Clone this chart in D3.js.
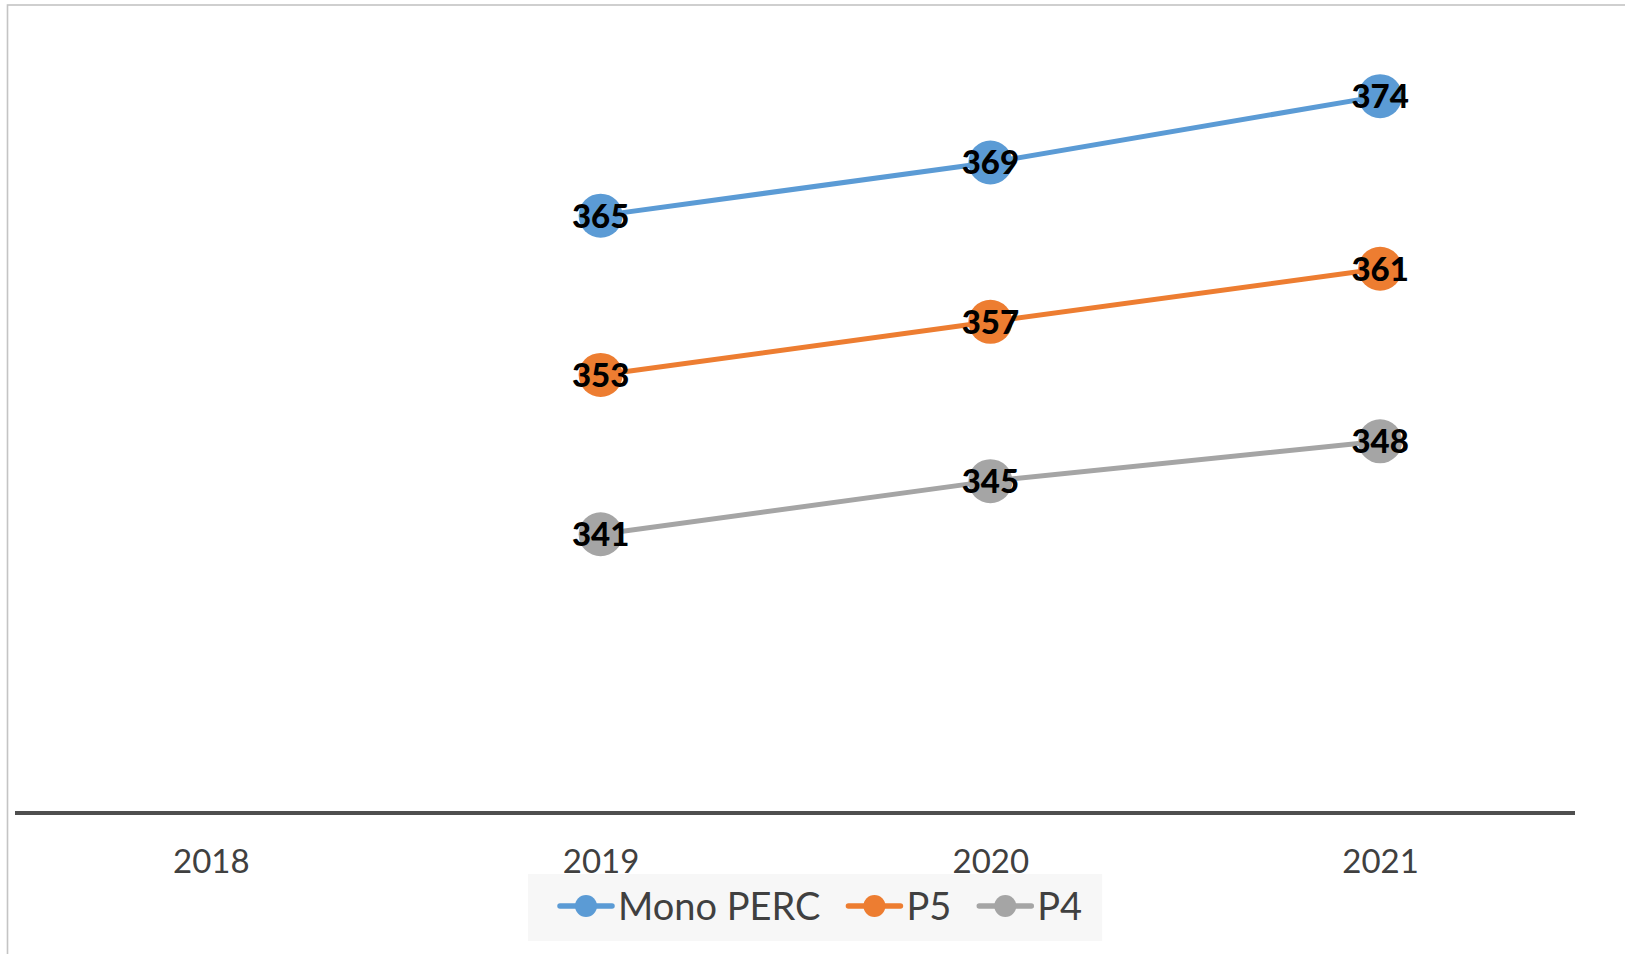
<!DOCTYPE html>
<html>
<head>
<meta charset="utf-8">
<script src="https://cdn.jsdelivr.net/npm/d3@7/dist/d3.min.js"></script>
<style>
  html, body { margin: 0; padding: 0; background: #ffffff; }
  svg { display: block; }
</style>
</head>
<body>
<svg id="chart" width="1625" height="954"></svg>
<script>
// Categories and series values (2018 has no data)
const years = ["2018", "2019", "2020", "2021"];
const monoPerc = [null, 365, 369, 374];
const p5 = [null, 353, 357, 361];
const p4 = [null, 341, 345, 348];
const seriesNames = ["Mono PERC", "P5", "P4"];
const seriesColors = ["#5b9bd5", "#ed7d31", "#a5a5a5"];
const yDomain = [320, 380];

const series = [monoPerc, p5, p4].map((vals, i) => ({
  name: seriesNames[i],
  color: seriesColors[i],
  points: years.map((y, j) => ({ year: y, value: vals[j] })).filter(d => d.value != null)
}));

const svg = d3.select("#chart");
const W = 1625, H = 954;

// outer chart frame (extends past the page edge on the right and bottom)
svg.append("rect")
  .attr("x", 7.5).attr("y", 5)
  .attr("width", W + 100).attr("height", H + 100)
  .attr("fill", "#ffffff")
  .attr("stroke", "#c4c4c4").attr("stroke-width", 1.6);

const x = d3.scalePoint().domain(years).range([16, 1575]).padding(0.5);
const y = d3.scaleLinear().domain(yDomain).range([813, 16.5]);

// category axis
const xAxis = d3.axisBottom(x).tickSize(0).tickPadding(0);
const gx = svg.append("g")
  .attr("transform", `translate(0,${y(yDomain[0])})`)
  .call(xAxis);
gx.select(".domain").remove();
gx.append("line")
  .attr("x1", 15).attr("x2", 1575)
  .attr("y1", 0).attr("y2", 0)
  .attr("stroke", "#4f4f4f").attr("stroke-width", 4);
gx.selectAll(".tick text")
  .attr("dy", 0)
  .attr("y", 60)
  .attr("fill", "#404040")
  .style("font-family", "Lato, 'Open Sans', sans-serif")
  .style("font-size", "33px");

const line = d3.line()
  .x(d => x(d.year))
  .y(d => y(d.value));

const g = svg.append("g");
series.forEach(s => {
  g.append("path")
    .datum(s.points)
    .attr("d", line)
    .attr("fill", "none")
    .attr("stroke", s.color)
    .attr("stroke-width", 5)
    .attr("stroke-linecap", "round");
  g.selectAll(null)
    .data(s.points)
    .join("circle")
    .attr("cx", d => x(d.year))
    .attr("cy", d => y(d.value))
    .attr("r", 22)
    .attr("fill", s.color);
});
series.forEach(s => {
  g.selectAll(null)
    .data(s.points)
    .join("text")
    .attr("x", d => x(d.year))
    .attr("y", d => y(d.value))
    .attr("dy", "0.36em")
    .attr("text-anchor", "middle")
    .attr("fill", "#000000")
    .style("font-family", "Lato, 'Open Sans', sans-serif")
    .style("font-weight", "900")
    .style("font-size", "33px")
    .text(d => d.value);
});

// legend
const legend = svg.append("g");
const legendBg = legend.append("rect")
  .attr("y", 874).attr("height", 67)
  .attr("fill", "#f7f7f7");
const legendY = 906;
let cx = 560;
series.forEach(s => {
  const item = legend.append("g");
  item.append("line")
    .attr("x1", cx).attr("x2", cx + 52)
    .attr("y1", legendY).attr("y2", legendY)
    .attr("stroke", s.color).attr("stroke-width", 5.5)
    .attr("stroke-linecap", "round");
  item.append("circle")
    .attr("cx", cx + 26).attr("cy", legendY).attr("r", 11)
    .attr("fill", s.color);
  const t = item.append("text")
    .attr("x", cx + 58).attr("y", legendY)
    .attr("dy", "0.36em")
    .attr("fill", "#404040")
    .style("font-family", "Lato, 'Open Sans', sans-serif")
    .style("font-size", "38px")
    .text(s.name);
  const w = t.node().getComputedTextLength();
  cx = cx + 58 + w + 28;
});
legendBg.attr("x", 528).attr("width", cx - 28 - 528 + 20);
</script>
</body>
</html>
